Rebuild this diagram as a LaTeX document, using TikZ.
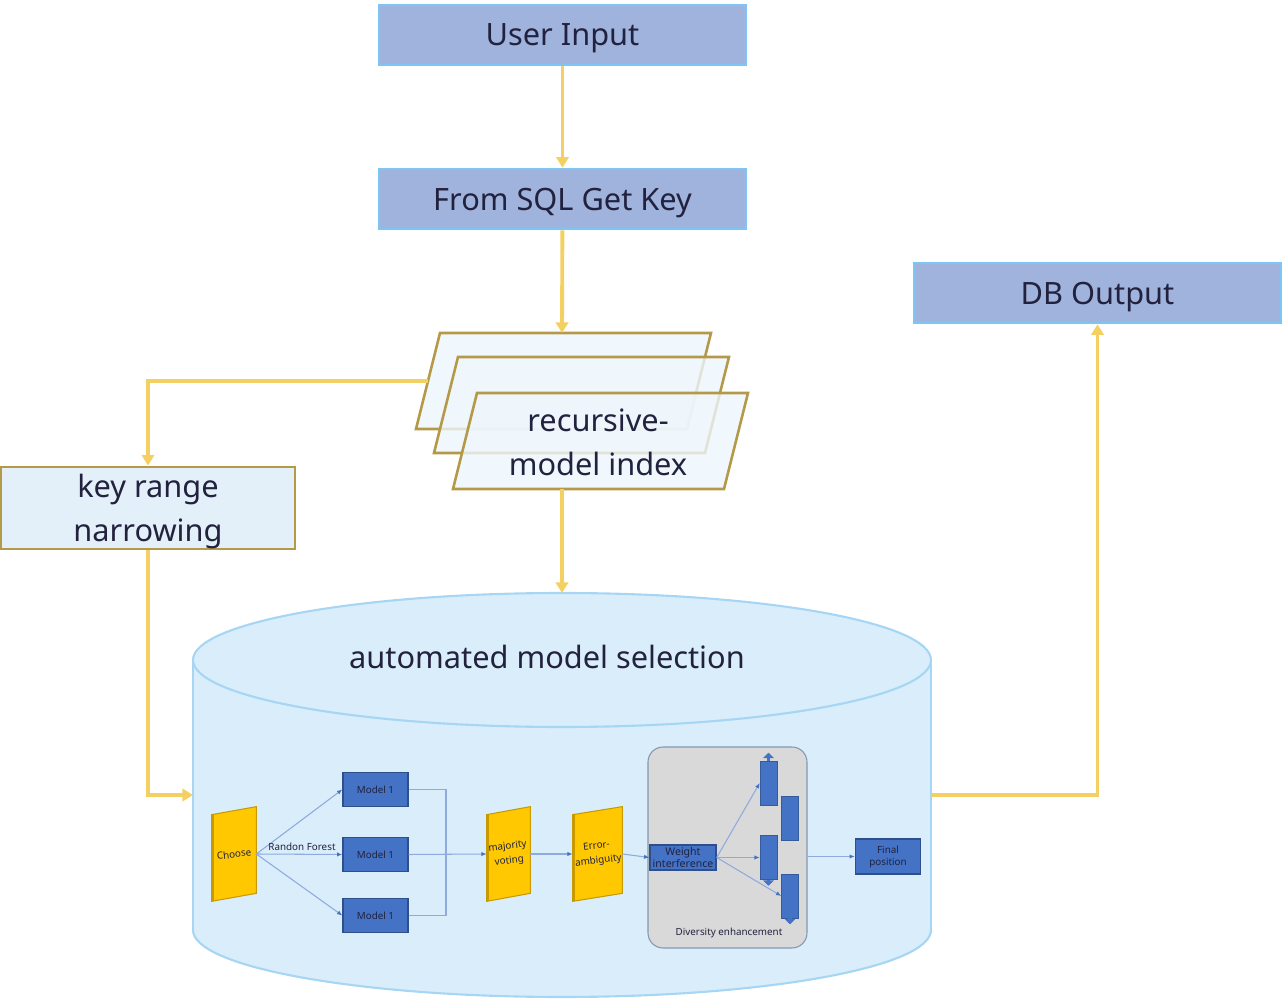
\documentclass[tikz,border=0pt]{standalone}
\usepackage{fontspec}
\setmainfont{Noto Sans}
\usepackage{xcolor}
\usetikzlibrary{shapes.geometric, arrows.meta, positioning, calc}

\definecolor{stepfill}{HTML}{9FB3DD}
\definecolor{stepedge}{HTML}{7DC5F2}
\definecolor{ink}{HTML}{22223F}
\definecolor{flowgold}{HTML}{F4D063}
\definecolor{olive}{HTML}{B49A48}
\definecolor{paleblue}{HTML}{E3F0FA}
\definecolor{paper}{HTML}{EEF6FC}
\definecolor{cylfill}{HTML}{D9EDFA}
\definecolor{cyledge}{HTML}{A6D6F4}
\definecolor{mblue}{HTML}{4472C4}
\definecolor{mdark}{HTML}{2F4F8A}
\definecolor{goldfill}{HTML}{FFC800}
\definecolor{golddark}{HTML}{C99A00}
\definecolor{divgray}{HTML}{D9D9D9}
\definecolor{divedge}{HTML}{8497B0}
\definecolor{thinblue}{HTML}{8FAADC}

\tikzset{
  bigtext/.style={font=\fontsize{17.5}{25}\selectfont, text=ink},
  smalltext/.style={font=\fontsize{5.6}{6.8}\selectfont, text=ink},
  stepbox/.style={bigtext, draw=stepedge, fill=stepfill, line width=1.5pt, minimum width=7.34cm, minimum height=1.2cm, inner sep=0pt, text depth=0pt},
  rangebox/.style={bigtext, align=center, draw=olive, fill=paleblue, line width=1.6pt, minimum width=5.88cm, minimum height=1.64cm, inner sep=0pt, text depth=0pt},
  pagepara/.style={draw=olive, line width=1.5pt, fill=paper, fill opacity=0.8},
  cylbody/.style={draw=cyledge, fill=cylfill, line width=1.2pt},
  flow/.style={draw=flowgold, line width=2.2pt, ->},
  slot/.style={minimum height=1.72cm, inner sep=0pt},
  goldshape/.style={fill=goldfill, draw=golddark, line width=0.6pt},
  goldtext/.style={font=\fontsize{5.6}{8.4}\selectfont, text=ink, rotate=7, align=center, inner sep=0pt},
  modelbox/.style={smalltext, fill=mblue, draw=mdark, line width=0.8pt, minimum width=1.3cm, minimum height=0.68cm, inner sep=0pt},
  bar/.style={fill=mblue, draw=mblue!80!black, line width=0.3pt, minimum width=0.34cm, minimum height=0.88cm, inner sep=0pt},
  stub/.style={draw=mblue, line width=2pt, -{Triangle[length=3pt,width=6pt]}},
  divbox/.style={fill=divgray, draw=divedge, line width=0.6pt, rounded corners=0.3cm, minimum width=3.18cm, minimum height=4.02cm},
  thinline/.style={draw=thinblue, line width=0.6pt},
  thinflow/.style={thinline, -{Latex[length=3pt,width=2.5pt,color=mblue]}}
}

\begin{document}
\begin{tikzpicture}[x=0.02cm, y=-0.02cm, >={Triangle[length=6pt,width=7pt]}]
\useasboundingbox (0,0) rectangle (1282,999);

% Input, key lookup and output
\node[stepbox] (input) at (562.5,35) {User Input};
\node[stepbox] (sqlkey) at (562.5,199) {From SQL Get Key};
\node[stepbox] (dbout) at (1097.5,293) {DB Output};

% Recursive-model index stack
\foreach \dx/\dy in {0/0, 18/24, 37/60}
  \draw[pagepara] ({440+\dx},{333+\dy}) -- ++(271,0) -- ++(-24,96) -- ++(-271,0) -- cycle;
\node[bigtext, align=center] (rmi) at (598,442) {recursive-\\model index};
\coordinate (stacktop) at (562,333);
\coordinate (stackleft) at (428,381);
\coordinate (stackbot) at (562,489);

% Key range narrowing
\node[rangebox] (keyrange) at (148,508) {key range\\narrowing};

% Automated model selection cylinder
\draw[cylbody] (562,930) ellipse [x radius=369, y radius=67];
\fill[cylfill] (193,660) rectangle (931,930);
\draw[cyledge, line width=1.2pt] (193,660) -- (193,930) (931,660) -- (931,930);
\draw[cylbody] (562,660) ellipse [x radius=369, y radius=67];
\node[bigtext] (ams) at (547,657) {automated model selection};
\coordinate (cyltop) at (562,593);
\coordinate (cylW) at (193,795);
\coordinate (cylE) at (931,795);

% Main flow
\draw[flow] (input) -- (sqlkey);
\draw[flow] (sqlkey) -- (stacktop);
\draw[flow] (stackleft) -| (keyrange);
\draw[flow] (stackbot) -- (cyltop);
\draw[flow] (keyrange) |- (cylW);
\draw[flow] (cylE) -| (dbout);

% Choose, majority voting, error-ambiguity
\foreach \n/\cx/\w/\txt in {choose/234/44/Choose, vote/508.5/43/{majority\\voting}, err/597.5/49/{Error-\\ambiguity}} {
  \node[slot, minimum width=\w*0.02cm] (\n) at (\cx,854) {};
  \filldraw[goldshape] ($(\n.north west)+(0,4)$) -- ($(\n.north east)+(0,-4)$) -- ($(\n.south east)+(0,-4)$) -- ($(\n.south west)+(0,4)$) -- cycle;
  \draw[golddark, line width=1.4pt] ($(\n.north west)+(1,4)$) -- ($(\n.south west)+(1,4)$);
  \node[goldtext] (\n txt) at (\n) {\txt};
}

% Random forest models
\foreach \n/\y in {m1/789.5, m2/854.5, m3/915.5} {
  \node[modelbox] (\n) at (375.5,\y) {Model 1};
  \draw[thinflow] (choose.east) -- (\n.west);
}
\node[smalltext] (forest) at (302,847) {Randon Forest};
\coordinate (merge) at (446,855);
\draw[thinline] (m1.east) -| (merge);
\draw[thinline] (m3.east) -| (merge);
\draw[thinflow] (m2.east) -- (vote.west);
\draw[thinflow] (vote.east) -- (err.west);

% Diversity enhancement
\node[divbox] (div) at (727.5,847.5) {};
\node[smalltext] (divlbl) at (729,933) {Diversity enhancement};
\node[modelbox, minimum width=1.32cm, minimum height=0.5cm, align=center, font=\fontsize{6}{6.8}\selectfont] (wi) at (683,857.5) {Weight\\interference};
\foreach \n/\x/\y in {b1/768.5/783, b2/790/818.5, b3/768.5/857.5, b4/790/896}
  \node[bar] (\n) at (\x,\y) {};
\draw[stub] (b1.north) -- ++(0,-8);
\draw[stub] (b3.south) -- ++(0,6);
\draw[stub] (b4.south) -- ++(0,6);
\foreach \n in {b1, b3, b4}
  \draw[thinflow] (wi.east) -- (\n.west);
\draw[thinflow] (err.east) -- (wi.west);

% Final position
\node[modelbox, minimum height=0.7cm, align=center] (fin) at (888,856.5) {Final\\position};
\draw[thinflow] (div.east |- fin.west) -- (fin.west);
\end{tikzpicture}
\end{document}
